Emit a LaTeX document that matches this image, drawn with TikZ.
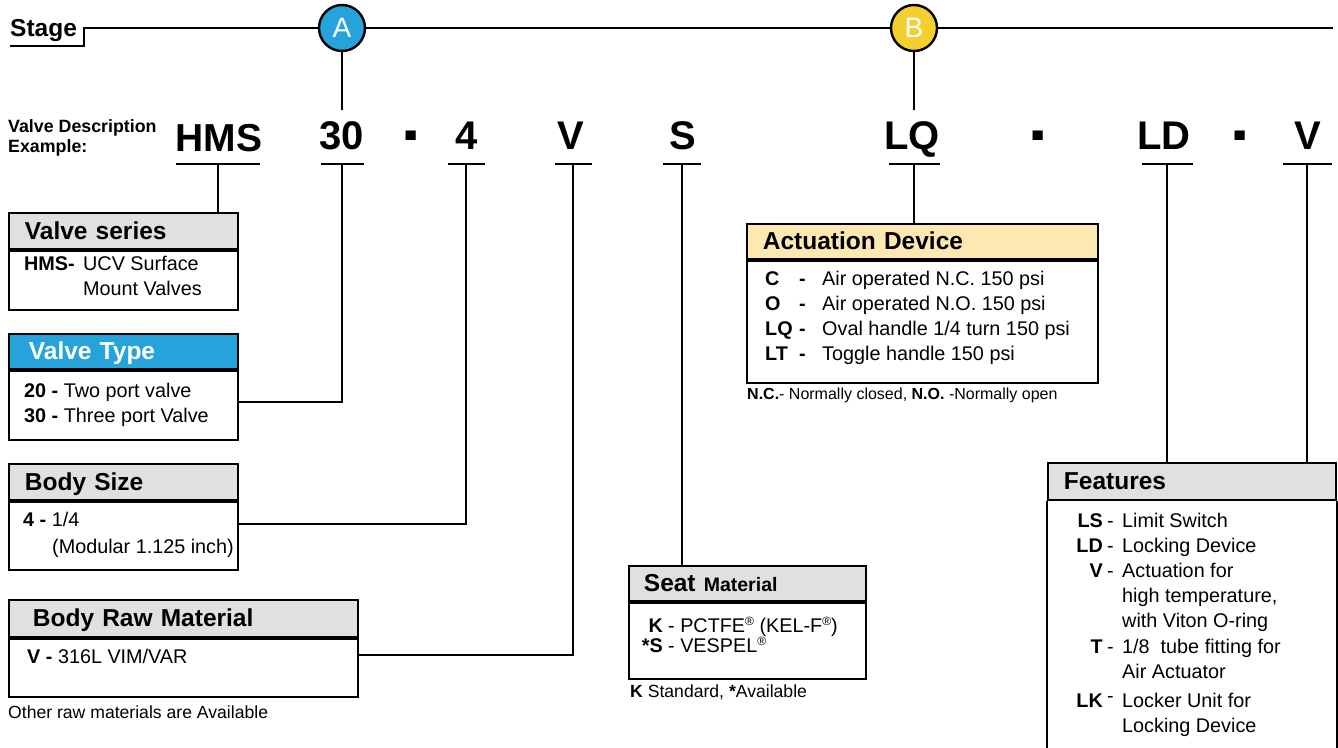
\documentclass[tikz,border=0pt]{standalone}
\usepackage{fontspec}
\setmainfont{Liberation Sans}
\usepackage{graphicx}

\definecolor{stageblue}{HTML}{27A3DC}
\definecolor{stageyellow}{HTML}{F5CF2E}
\definecolor{hdrgray}{HTML}{E0E0E0}
\definecolor{hdrcream}{HTML}{FDE8B2}

\newcommand{\fs}[1]{\fontsize{#1}{#1}\selectfont}
\newcommand{\codedash}{\raisebox{-7pt}{\scalebox{1}[2]{-}}}
\newcommand{\regmark}{\raisebox{6.5pt}{\fs{12}®}}

\tikzset{
  boxline/.style={line width=1.8pt},
  hdrbox/.style={draw, boxline, fill=hdrgray, anchor=north west, inner xsep=16pt, inner ysep=0pt,
    minimum height=36pt, text height=17pt, text depth=0pt, align=left, font=\fs{24.5}\bfseries},
  bodybox/.style={draw, boxline, anchor=north west, inner sep=0pt},
  itemtext/.style={anchor=base west, inner sep=0pt, font=\fs{19.8}},
  itemlabel/.style={anchor=base east, inner sep=0pt, font=\fs{19.8}\bfseries},
  notetext/.style={anchor=base west, inner sep=0pt, font=\fs{17.6}},
  codetext/.style={anchor=base, inner sep=0pt, font=\fs{40}\bfseries},
  stagedot/.style={circle, draw, line width=2.4pt, minimum size=46pt, inner sep=0pt, text=white, font=\fs{28}},
  stageline/.style={line width=2.3pt},
  linkline/.style={line width=1.6pt},
  underbar/.style={line width=1.3pt},
}

\begin{document}
\begin{tikzpicture}[x=1pt,y=-1pt]
  \useasboundingbox (0,0) rectangle (1338,747);

  \node[anchor=base west, inner sep=0pt, font=\fs{24.5}\bfseries] (stage) at (10,36) {Stage};
  \node[stagedot, fill=stageblue] (stA) at (342,28) {A};
  \node[stagedot, fill=stageyellow] (stB) at (914,28) {B};
  \coordinate (stagefoot) at (10,46);
  \coordinate (stagekink) at (84,28);
  \coordinate (stageend) at (1333,28);
  \coordinate (aFoot) at (342,110);
  \coordinate (bFoot) at (914,110);
  \draw[stageline] (stagefoot) -- (stagekink |- stagefoot) -- (stagekink) -- (stA) -- (stB) -- (stageend);
  \draw[underbar] (stA) -- (aFoot);
  \draw[underbar] (stB) -- (bFoot);

  \node[anchor=base west, inner sep=0pt, font=\fs{17.8}\bfseries] (descA) at (8,132) {Valve Description};
  \node[anchor=base west, inner sep=0pt, font=\fs{17.8}\bfseries] (descB) at (8,152) {Example:};

  \node[codetext, font=\fs{39}\bfseries] (cHMS) at (219,151) {HMS};
  \node[codetext] (c30) at (342,149) {30};
  \node[codetext] (d1) at (411,149) {\codedash};
  \node[codetext] (c4) at (467,149) {4};
  \node[codetext] (cV) at (571,149) {V};
  \node[codetext] (cS) at (683,149) {S};
  \node[codetext] (cLQ) at (912,149) {LQ};
  \node[codetext] (d2) at (1038,149) {\codedash};
  \node[codetext] (cLD) at (1164,149) {LD};
  \node[codetext] (d3) at (1240,149) {\codedash};
  \node[codetext] (cVF) at (1308,149) {V};

  \foreach \nm/\xx/\hw in {HMS/218/42,30/342/21.5,4/466/18.5,V/573/18.5,S/682/19,LQ/914/25.5,LD/1167/25.5,VF/1307/24.5}{
    \coordinate (t\nm) at (\xx,164);
    \draw[underbar] ([xshift=-\hw]t\nm) -- ([xshift=\hw]t\nm);
  }

  % left column
  \node[hdrbox, text width=197pt] (serieshd) at (8,212) {Valve series};
  \node[bodybox, minimum width=229pt, minimum height=59pt] (seriesbd) at (serieshd.south west) {};
  \node[itemtext] (hms) at (24,270) {\textbf{HMS-}};
  \node[itemtext] (hmsa) at (83,270) {UCV Surface};
  \node[itemtext] (hmsb) at (83,295) {Mount Valves};

  \node[hdrbox, fill=stageblue, text=white, inner xsep=20pt, text width=189pt, minimum height=35pt] (typehd) at (8,333) {Valve Type};
  \node[bodybox, minimum width=229pt, minimum height=69pt] (typebd) at (typehd.south west) {};
  \node[itemtext] (v20) at (24,397) {\textbf{20 -} Two port valve};
  \node[itemtext] (v30) at (24,422) {\textbf{30 -} Three port Valve};

  \node[hdrbox, text width=197pt] (sizehd) at (8,463) {Body Size};
  \node[bodybox, minimum width=229pt, minimum height=68pt] (sizebd) at (sizehd.south west) {};
  \node[itemtext] (s4) at (23,526) {\textbf{4 -} 1/4};
  \node[itemtext] (s4b) at (52,553) {(Modular 1.125 inch)};

  \node[hdrbox, inner xsep=24pt, text width=301pt, minimum height=37pt] (rawhd) at (8,599) {Body Raw Material};
  \node[bodybox, minimum width=349pt, minimum height=58pt] (rawbd) at (rawhd.south west) {};
  \node[itemtext] (rV) at (27,663) {\textbf{V -} 316L VIM/VAR};
  \node[notetext] (rawnote) at (8,718) {Other raw materials are Available};

  % seat
  \node[hdrbox, inner xsep=15pt, text width=207pt, minimum height=35pt] (seathd) at (628,565)
    {Seat {\fs{19.5}\bfseries Material}};
  \node[bodybox, minimum width=237pt, minimum height=76pt] (seatbd) at (seathd.south west) {};
  \node[itemlabel] (kK) at (663,632) {K};
  \node[itemtext] (kKt) at (668,632) {- PCTFE\regmark\ (KEL-F\regmark)};
  \node[itemlabel] (kS) at (663,652) {*S};
  \node[itemtext] (kSt) at (668,652) {- VESPEL\regmark};
  \node[notetext] (seatnote) at (630,697) {\textbf{K} Standard, \textbf{*}Available};

  % actuation
  \node[hdrbox, fill=hdrcream, text width=319pt, minimum height=35pt] (acthd) at (746,223) {Actuation Device};
  \node[bodybox, minimum width=351pt, minimum height=122pt] (actbd) at (acthd.south west) {};
  \foreach \lb/\tx/\yy in {C/{Air operated N.C. 150 psi}/285,O/{Air operated N.O. 150 psi}/310,LQ/{Oval handle 1/4 turn 150 psi}/335,LT/{Toggle handle 150 psi}/360}{
    \node[itemtext, font=\fs{19.8}\bfseries] (a\lb) at (765,\yy) {\lb};
    \node[itemtext, font=\fs{19.8}\bfseries] (a\lb d) at (799,\yy) {-};
    \node[itemtext] (a\lb t) at (822,\yy) {\tx};
  }
  \node[notetext, font=\fs{16}] (actnote) at (747,399) {\textbf{N.C.}- Normally closed, \textbf{N.O.} -Normally open};

  % features
  \node[hdrbox, text width=256pt, minimum height=37pt] (feathd) at (1047,462) {Features};
  \draw[boxline] (feathd.south west) -- ++(0,260) (feathd.south east) -- ++(0,260);
  \foreach \lb/\yy in {LS/527,LD/552,V/577,T/653}{
    \node[itemlabel] (f\lb) at (1103,\yy) {\lb};
    \node[itemtext] (f\lb d) at (1107,\yy) {-};
  }
  \node[itemlabel] (fLK) at (1103,707) {LK};
  \node[itemtext] (fLKd) at (1107,707) {\raisebox{5pt}{-}};
  \foreach \tx/\yy in {{Limit Switch}/527,{Locking Device}/552,{Actuation for}/577,{high temperature,}/602,{with Viton O-ring}/627,{1/8\ \ tube fitting for}/653,{Air Actuator}/678,{Locker Unit for}/707,{Locking Device}/732}{
    \node[itemtext] at (1122,\yy) {\tx};
  }

  % connectors
  \draw[linkline] (tHMS) -- (tHMS |- serieshd.north);
  \draw[linkline] (t30) |- ([yshift=3.5pt]typebd.east);
  \draw[linkline] (t4) |- ([yshift=12pt]sizebd.east);
  \draw[linkline] (tV) |- ([yshift=13pt]rawbd.east);
  \draw[linkline] (tS) -- (tS |- seathd.north);
  \draw[linkline] (tLQ) -- (tLQ |- acthd.north);
  \draw[linkline] (tLD) -- (tLD |- feathd.north);
  \draw[linkline] (tVF) -- (tVF |- feathd.north);
\end{tikzpicture}
\end{document}
